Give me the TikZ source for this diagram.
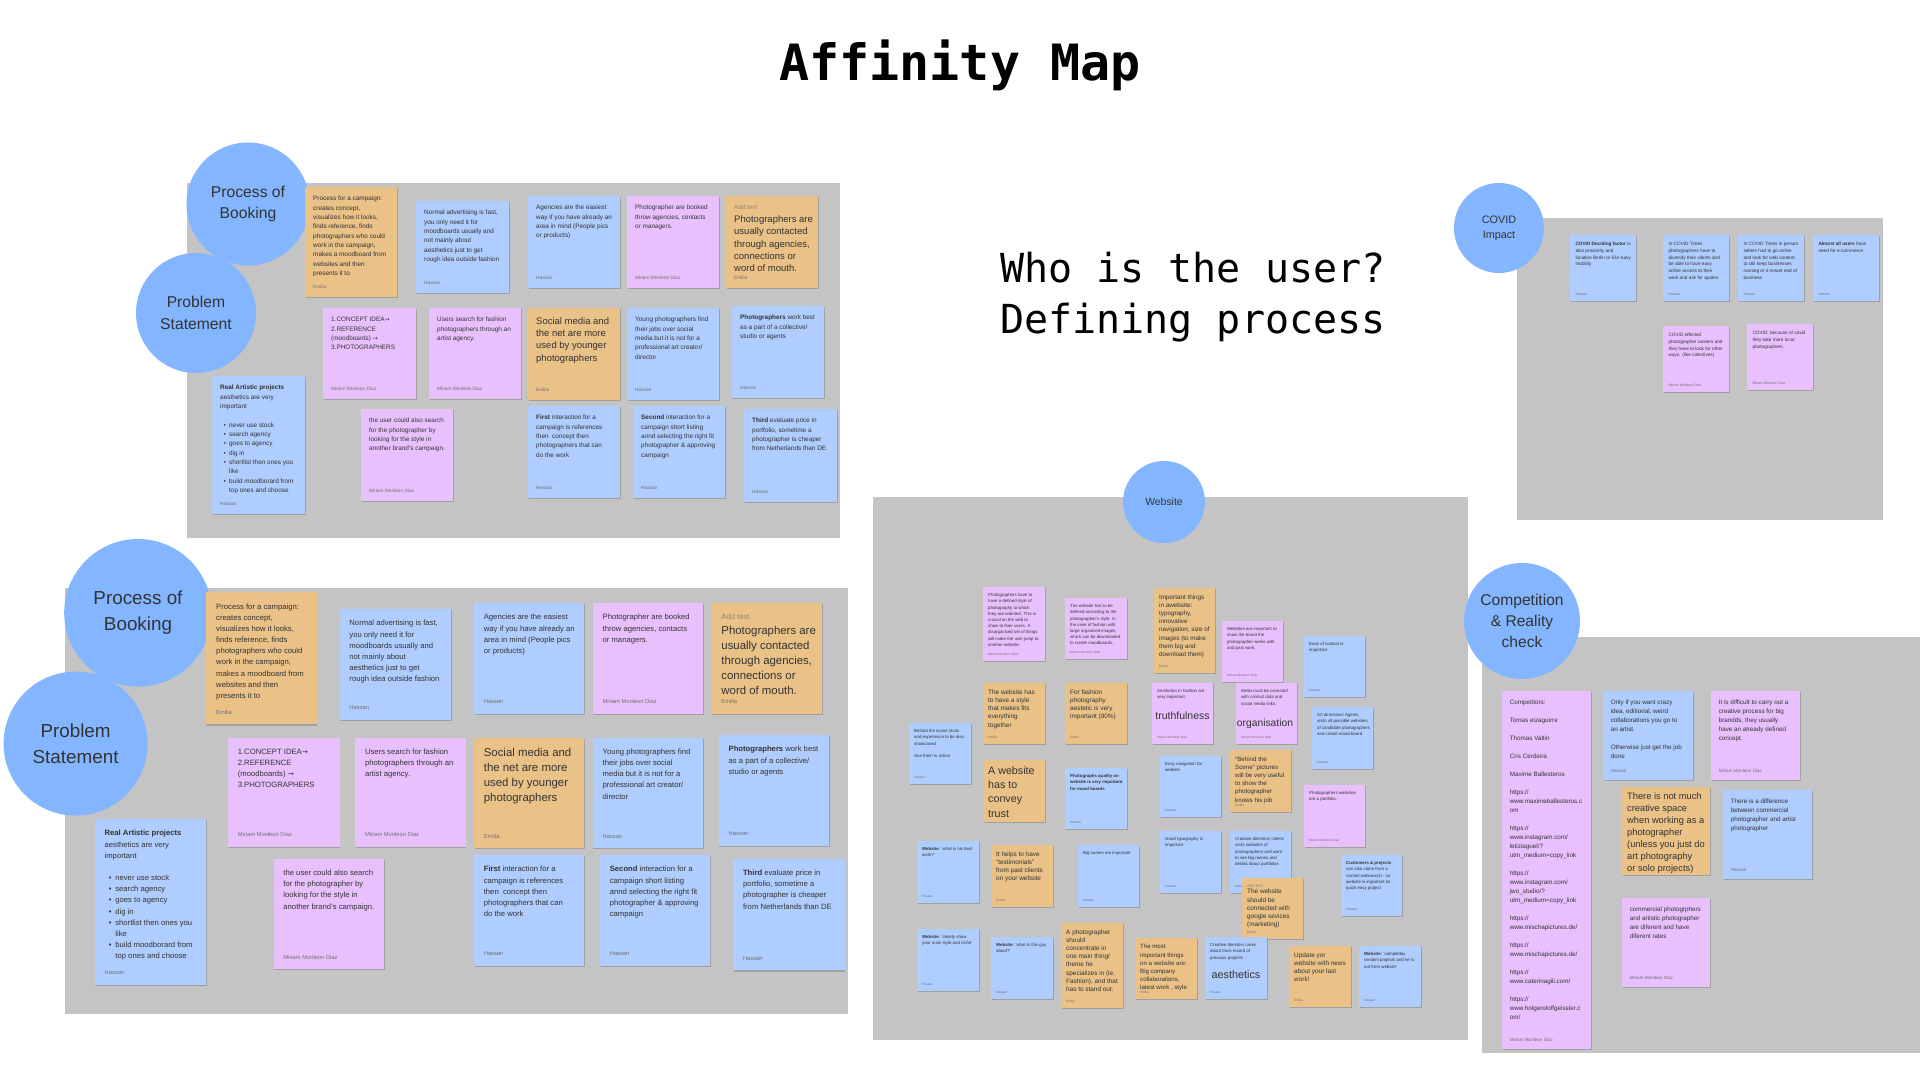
\documentclass[tikz,border=0pt]{standalone}
\usepackage{fontspec}
\setmainfont{Liberation Sans}
\newfontfamily\monof{DejaVu Sans Mono}
\newfontfamily\symf{DejaVu Sans}
\usetikzlibrary{shadows}
\definecolor{panelgray}{HTML}{C4C4C4}
\definecolor{nblue}{HTML}{AFCDFE}
\definecolor{npink}{HTML}{E9C0FE}
\definecolor{norange}{HTML}{EAC187}
\definecolor{cblue}{HTML}{83B6FF}
\definecolor{tdark}{HTML}{333333}
\definecolor{tauth}{HTML}{707070}
\definecolor{addgray}{HTML}{948873}
\newcommand\bodyfont{\fontsize{6.4}{9.33}\selectfont}
\newcommand\authfont{\fontsize{4.8}{5.5}\selectfont}
\newcommand\pdx{8}
\newcommand\pdy{9}
\tikzset{
  notebox/.style={anchor=north west, inner sep=0pt, outer sep=0pt, draw=none,
    drop shadow={shadow xshift=0.5pt, shadow yshift=-1.2pt, opacity=0.18, fill=black}},
  notetext/.style={anchor=north west, inner sep=0pt, align=left, text=tdark, font=\bodyfont},
  noteauthor/.style={anchor=south west, inner sep=0pt, text=tauth, font=\authfont},
  circ/.style={circle, fill=cblue, inner sep=0pt, align=center, text=tdark},
  bigw/.style={inner sep=0pt, text=tdark},
}
% [opt]{name}{x}{y}{w}{h}{colour}{body}{author}
\newcommand{\stick}[9][]{%
  \node[notebox, fill=#7, minimum width=#5pt, minimum height=#6pt] (#2) at (#3,#4) {};
  \node[notetext,#1] (#2-t) at ({#3+\pdx},{#4+\pdy}) {#8};
  \node[noteauthor] (#2-a) at ({#3+\pdx},{#4+#6-\pdx}) {#9};
}
\newcommand\largeTL{\fontsize{9.5}{12.4}\selectfont}
\newcommand{\bookingcluster}{%
  \fill[panelgray] (187,183) rectangle (840,538);
  \node[circ, minimum size=123pt, font=\fontsize{15.7}{21.7}\selectfont] (pob) at (248,204) {Process of\\Booking};
  \node[circ, minimum size=120pt, font=\fontsize{15.7}{21.7}\selectfont] (ps) at (196,313) {Problem\\Statement};
  \stick{n1}{305}{187}{92}{110}{norange}{Process for a campaign:\\creates concept,\\visualizes how it looks,\\finds reference, finds\\photographers who could\\work in the campaign,\\makes a moodboard from\\websites and then\\presents it to}{Emilia}
  \stick{n2}{416}{201}{93}{92}{nblue}{Normal advertising is fast,\\you only need it for\\moodboards usually and\\not mainly about\\aesthetics just to get\\rough idea outside fashion}{Hassan}
  \stick{n3}{323}{308}{93}{91}{npink}{1.CONCEPT IDEA{\symf\fontsize{6}{7}\selectfont →}\\2.REFERENCE\\(moodboards) {\symf\fontsize{6}{7}\selectfont →}\\3.PHOTOGRAPHERS}{Miriam Monleon Diaz}
  \stick{n4}{429}{308}{92}{91}{npink}{Users search for fashion\\photographers through an\\artist agency.}{Miriam Monleon Diaz}
  \stick{n5}{212}{376}{93}{138}{nblue}{\textbf{Real Artistic projects}\\aesthetics are very\\important\\\mbox{}\\\hspace*{3.5pt}\textbullet\hspace*{3.2pt}never use stock\\\hspace*{3.5pt}\textbullet\hspace*{3.2pt}search agency\\\hspace*{3.5pt}\textbullet\hspace*{3.2pt}goes to agency\\\hspace*{3.5pt}\textbullet\hspace*{3.2pt}dig in\\\hspace*{3.5pt}\textbullet\hspace*{3.2pt}shortlist then ones you\\\hspace*{9pt}like\\\hspace*{3.5pt}\textbullet\hspace*{3.2pt}build moodborard from\\\hspace*{9pt}top ones and choose}{Hassan}
  \stick{n6}{361}{409}{92}{92}{npink}{the user could also search\\for the photographer by\\looking for the style in\\another brand's campaign.}{Miriam Monleon Diaz}
  \stick{n7}{528}{196}{92}{92}{nblue}{Agencies are the easiest\\way if you have already an\\area in mind (People pics\\or products)}{Hassan}
  \stick{n8}{627}{196}{92}{92}{npink}{Photographer are booked\\throw agencies, contacts\\or managers.}{Miriam Monleon Diaz}
  \stick[font=\largeTL]{n9}{726}{196}{92}{92}{norange}{{\color{addgray}\fontsize{6.4}{7}\selectfont Add text}\\Photographers are\\usually contacted\\through agencies,\\connections or\\word of mouth.}{Emilia}
  \stick[font=\largeTL]{n10}{528}{308}{92}{92}{norange}{Social media and\\the net are more\\used by younger\\photographers}{Emilia}
  \stick{n11}{627}{308}{92}{92}{nblue}{Young photographers find\\their jobs over social\\media but it is not for a\\professional art creator/\\director}{Hassan}
  \stick{n12}{732}{306}{92}{92}{nblue}{\textbf{Photographers} work best\\as a part of a collective/\\studio or agents}{Hassan}
  \stick{n13}{528}{406}{92}{92}{nblue}{\textbf{First} interaction for a\\campaign is references\\then\ \ concept then\\photographers that can\\do the work}{Hassan}
  \stick{n14}{633}{406}{92}{92}{nblue}{\textbf{Second} interaction for a\\campaign short listing\\annd selecting the right fit\\photographer \& approving\\campaign}{Hassan}
  \stick{n15}{744}{409}{93}{93}{nblue}{\textbf{Third} evaluate price in\\portfolio, sometime a\\photographer is cheaper\\from Netherlands than DE}{Hassan}
}
\begin{document}
\begin{tikzpicture}[x=1pt,y=-1pt]
\fill[white] (0,0) rectangle (1920,1080);
\useasboundingbox (0,0) rectangle (1920,1080);

% titles
\node[anchor=base, inner sep=0pt, text=black, font=\monof\bfseries\fontsize{50}{56}\selectfont] (title) at (960,80) {Affinity Map};
\node[anchor=base west, inner sep=0pt, text=black, font=\monof\fontsize{40}{50}\selectfont] (q1) at (1000,282) {Who is the user?};
\node[anchor=base west, inner sep=0pt, text=black, font=\monof\fontsize{40}{50}\selectfont] (q2) at (1000,333) {Defining process};

% booking clusters
\begin{scope}
\bookingcluster
\end{scope}
\begin{scope}[shift={(-159.6,368)}, scale=1.2, transform shape, name prefix=b-]
\bookingcluster
\end{scope}

% website cluster
\begin{scope}
\def\bodyfont{\fontsize{4.35}{6.2}\selectfont}
\def\authfont{\fontsize{3.2}{4}\selectfont}
\def\pdx{5}
\def\pdy{6.3}
\def\medW{\fontsize{6.4}{8.25}\selectfont}
\fill[panelgray] (873,497) rectangle (1468,1040);
\node[circ, minimum size=82pt, font=\fontsize{10.4}{12}\selectfont] (web) at (1164,502) {Website};
\stick{w1}{983}{587}{62}{74}{npink}{Photographers have to\\have a defined style of\\photography to which\\they are oriented. This is\\crucial on the web to\\show to their users. A\\disorganised set of things\\will make the user jump to\\another website.}{Miriam Monleon Diaz}
\stick{w2}{1065}{598}{62}{61}{npink}{The website has to be\\defined according to the\\photographer's style. In\\the case of fashion with\\large organised images,\\which can be downloaded\\to create moodboards.}{Miriam Monleon Diaz}
\stick[font=\fontsize{6.3}{8.2}\selectfont]{w3}{1154}{588}{61}{85}{norange}{Important things\\in awebsite:\\typography,\\innovative\\navigation, size of\\images (to make\\them big and\\download them)}{Emilia}
\stick[font=\medW]{w4}{983}{683}{62}{61}{norange}{The website has\\to have a style\\that makes fits\\everything\\together}{Emilia}
\stick[font=\medW]{w5}{1065}{683}{62}{61}{norange}{For fashion\\photography\\aestetic is very\\important (90\%)}{Emilia}
\stick{w6}{1152}{683}{61}{61}{npink}{Aesthetics in fashion are\\very important.}{Miriam Monleon Diaz}
\node[bigw, font=\fontsize{10.5}{12}\selectfont] (w6-b) at (1182.5,716) {truthfulness};
\stick{w7}{909}{723}{62}{61}{nblue}{Behind the scene shots\\and experience to be also\\showcased\\\mbox{}\\See them in action}{Hassan}
\stick[font=\fontsize{10.7}{14.3}\selectfont]{w8}{983}{760}{62}{62}{norange}{A website\\has to\\convey\\trust}{}
\stick{w9}{1065}{768}{62}{61}{nblue}{\textbf{Photographs quality on}\\\textbf{website is very important}\\\textbf{for mood boards}}{Hassan}
\stick{w10}{1160}{756}{61}{61}{nblue}{Easy navigation for\\website}{Hassan}
\stick{w11}{1222}{621}{61}{61}{npink}{Websites are important to\\show the brand the\\photographer works with\\and past work.}{Miriam Monleon Diaz}
\stick{w12}{1236}{683}{61}{61}{npink}{Webs must be conected\\with contact data and\\social media links.}{Miriam Monleon Diaz}
\node[bigw, font=\fontsize{10.3}{12}\selectfont] (w12-b) at (1265,724) {organisation};
\stick{w13}{1304}{636}{61}{61}{nblue}{Ease of contact is\\important}{Hassan}
\stick{w14}{1312}{707}{61}{62}{nblue}{Art directions/ Agents\\visits all possible websites\\of candidate photographers\\and create mood board}{Hassan}
\stick[font=\fontsize{6.2}{8.2}\selectfont]{w15}{1230}{750}{61}{62}{norange}{“Behind the\\Scene” pictures\\will be very useful\\to show the\\photographer\\knows his job}{Emilia}
\stick{w16}{1304}{785}{61}{62}{npink}{Photographers websites\\are a portfolio.}{Miriam Monleon Diaz}
\stick{w17}{917}{841}{62}{62}{nblue}{\textbf{Website}: ‘what is his best\\work?’}{Hassan}
\stick[font=\medW]{w18}{991}{845}{62}{62}{norange}{It helps to have\\“testimonials”\\from past clients\\on your website}{Emilia}
\stick{w19}{1078}{845}{61}{62}{nblue}{Big names are important}{Hassan}
\stick{w20}{1160}{831}{61}{62}{nblue}{Good typography is\\important}{Hassan}
\stick{w21}{917}{929}{62}{62}{nblue}{\textbf{Website}: ‘clearly show\\your main style and niche’}{Hassan}
\stick{w22}{991}{937}{62}{62}{nblue}{\textbf{Website}: ‘what is this guy\\about?’}{Hassan}
\stick[font=\fontsize{6.4}{8.2}\selectfont]{w23}{1061}{923}{62}{85}{norange}{A photographer\\should\\concentrate in\\one main thing/\\theme he\\specializes in (ie.\\Fashion), and that\\has to stand out.}{Emilia}
\stick[font=\fontsize{6.1}{8.2}\selectfont]{w24}{1135}{938}{62}{61}{norange}{The most\\important things\\on a website are:\\Big company\\collaborations,\\latest work , style}{Emilia}
\stick{w25}{1230}{831}{61}{62}{nblue}{Creative directors/ clients\\visits websites of\\photographers and want\\to see big names and\\details about portfolios}{Hassan}
\stick[font=\medW]{w26}{1242}{878}{61}{61}{norange}{{\color{addgray}\fontsize{4.3}{5}\selectfont Add text}\\[-2pt]The website\\should be\\connected with\\google sevices\\(marketing)}{Emilia}
\stick{w27}{1341}{855}{61}{61}{nblue}{\textbf{Customers \& projects}\\can also come from a\\normal websearch - so\\website is important for\\quick easy project}{Hassan}
\stick{w28}{1205}{937}{62}{62}{nblue}{Creative directors cares\\about track record of\\previous projects}{Hassan}
\node[bigw, font=\fontsize{10.8}{12}\selectfont] (w28-b) at (1236,975) {aesthetics};
\stick[font=\medW]{w29}{1289}{946}{62}{61}{norange}{Update yor\\website with news\\about your last\\work!}{Emilia}
\stick{w30}{1359}{946}{62}{61}{nblue}{\textbf{Website}: ‘completley\\random projects and he is\\out from website’}{Hassan}
\end{scope}

% covid cluster
\begin{scope}
\def\bodyfont{\fontsize{4.7}{6.7}\selectfont}
\def\authfont{\fontsize{3.5}{4}\selectfont}
\def\pdx{5.3}
\def\pdy{7}
\fill[panelgray] (1517,218) rectangle (1883,520);
\node[circ, minimum size=90pt, font=\fontsize{10.8}{15}\selectfont] (covid) at (1499,228) {COVID\\Impact};
\stick{c1}{1570}{235}{66}{66}{nblue}{\textbf{COVID Deciding factor} is\\also proximity and\\location Berlin or EU/ easy\\mobility}{Hassan}
\stick{c2}{1663}{235}{66}{66}{nblue}{In COVID Times\\photographers have to\\diversify their clients and\\be able to have easy\\online access to their\\work and ask for quotes}{Hassan}
\stick{c3}{1738}{235}{66}{66}{nblue}{In COVID Times in person\\sellers had to go online\\and look for web content\\to still keep businesses\\running or it meant end of\\business}{Hassan}
\stick{c4}{1813}{235}{66}{66}{nblue}{\textbf{Almost all users} have\\need for e-commerce}{Hassan}
\stick{c5}{1663}{326}{66}{66}{npink}{COVID affected\\photographer careers and\\they have to look for other\\ways. (like colectives)}{Miriam Monleon Diaz}
\stick{c6}{1747}{324}{66}{66}{npink}{COVID: because of covid\\they take more local\\photographers.}{Miriam Monleon Diaz}
\end{scope}

% competition cluster
\begin{scope}
\def\bodyfont{\fontsize{6.3}{9}\selectfont}
\def\authfont{\fontsize{4.6}{5}\selectfont}
\def\pdx{7.6}
\def\pdy{9}
\fill[panelgray] (1482,637) rectangle (1920,1053);
\node[circ, minimum size=116pt, font=\fontsize{15.6}{21}\selectfont] (comp) at (1522,621) {Competition\\\& Reality\\check};
\stick{k1}{1502}{691}{89}{358}{npink}{Competitors:\\\mbox{}\\Tomas eizaguirre\\\mbox{}\\Thomas Valtin\\\mbox{}\\Cris Cerdeira\\\mbox{}\\Maxime Ballesteros\\\mbox{}\\https://\\www.maximeballesteros.c\\om\\\mbox{}\\https://\\www.instagram.com/\\letiziaguel/?\\utm\_medium=copy\_link\\\mbox{}\\https://\\www.instagram.com/\\jwo\_studio/?\\utm\_medium=copy\_link\\\mbox{}\\https://\\www.mischapictures.de/\\\mbox{}\\https://\\www.mischapictures.de/\\\mbox{}\\https://\\www.caterinagili.com/\\\mbox{}\\https://\\www.holgeroloffgeissler.c\\om/}{Miriam Monleon Diaz}
\stick{k2}{1603}{691}{90}{89}{nblue}{Only if you want crazy\\idea, editiorial, weird\\collaborations you go to\\an artist.\\\mbox{}\\Otherwise just get the job\\done}{Hassan}
\stick[font=\fontsize{9.3}{12}\selectfont, xshift=-2.6pt, yshift=3.4pt]{k3}{1622}{787}{88}{88}{norange}{There is not much\\creative space\\when working as a\\photographer\\(unless you just do\\art photography\\or solo projects)}{}
\stick{k4}{1622}{898}{88}{89}{npink}{commercial photogrphers\\and artistic photographer\\are diferent and have\\diferent rates}{Miriam Monleon Diaz}
\stick{k5}{1711}{691}{89}{89}{npink}{It is difficult to carry out a\\creative process for big\\brandds, they usually\\have an already defined\\concept.}{Miriam Monleon Diaz}
\stick{k6}{1723}{790}{89}{89}{nblue}{There is a difference\\between commercial\\photographer and artist\\photographer}{Hassan}
\end{scope}
\end{tikzpicture}
\end{document}
